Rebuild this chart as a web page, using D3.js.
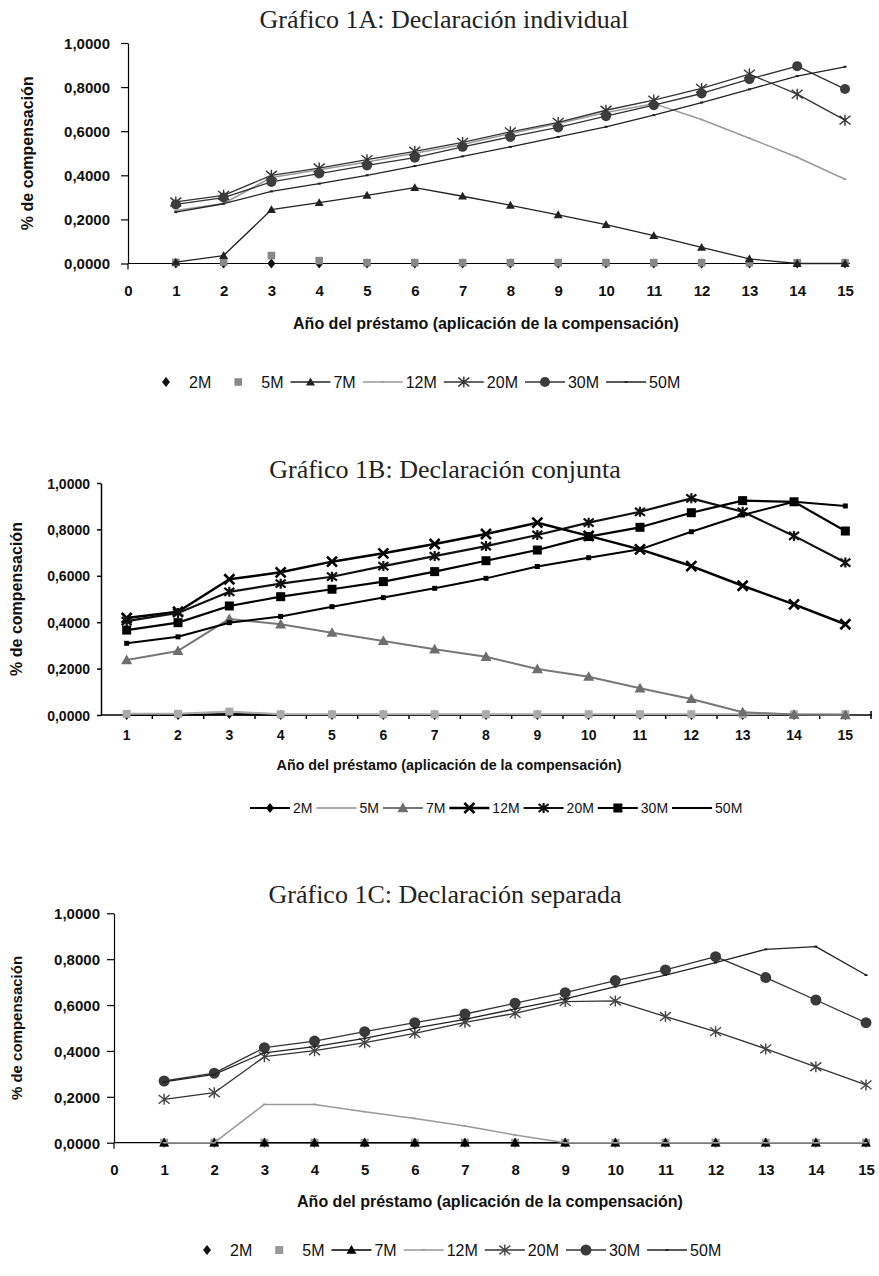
<!DOCTYPE html>
<html>
<head>
<meta charset="utf-8">
<script src="https://cdn.jsdelivr.net/npm/d3@7"></script>
<style>
  body { margin: 0; background: #fff; }
</style>
</head>
<body>
<svg id="chart" width="879" height="1276"></svg>
<script>
// ---- data ----
var years = [1, 2, 3, 4, 5, 6, 7, 8, 9, 10, 11, 12, 13, 14, 15];
var xTicks = [0, 1, 2, 3, 4, 5, 6, 7, 8, 9, 10, 11, 12, 13, 14, 15];
var yTicks = [0, 0.2, 0.4, 0.6, 0.8, 1.0];
var seriesNames = ['2M', '5M', '7M', '12M', '20M', '30M', '50M'];
var titles = ['Gráfico 1A: Declaración individual', 'Gráfico 1B: Declaración conjunta', 'Gráfico 1C: Declaración separada'];
var xTitle = 'Año del préstamo (aplicación de la compensación)';
var yTitle = '% de compensación';

// Gráfico 1A
var a2M  = [0, 0, 0, 0, 0, 0, 0, 0, 0, 0, 0, 0, 0, 0, 0];
var a5M  = [0.005, 0.006, 0.036, 0.013, 0.004, 0.004, 0.004, 0.004, 0.004, 0.004, 0.004, 0.004, 0.004, 0.004, 0.004];
var a7M  = [0.006, 0.036, 0.244, 0.276, 0.309, 0.344, 0.305, 0.264, 0.221, 0.176, 0.126, 0.073, 0.021, 0, 0];
var a12M = [0.240, 0.272, 0.390, 0.425, 0.460, 0.500, 0.540, 0.590, 0.635, 0.685, 0.725, 0.653, 0.568, 0.482, 0.382];
var a20M = [0.279, 0.309, 0.400, 0.433, 0.471, 0.509, 0.549, 0.597, 0.640, 0.695, 0.741, 0.794, 0.859, 0.768, 0.650];
var a30M = [0.268, 0.299, 0.370, 0.408, 0.445, 0.480, 0.529, 0.574, 0.617, 0.668, 0.718, 0.771, 0.836, 0.895, 0.791];
var a50M = [0.233, 0.271, 0.327, 0.362, 0.400, 0.442, 0.486, 0.529, 0.574, 0.620, 0.673, 0.730, 0.790, 0.850, 0.892];

// Gráfico 1B
var b2M  = [0, 0, 0.004, 0, 0, 0, 0, 0, 0, 0, 0, 0, 0, 0, 0];
var b5M  = [0.005, 0.005, 0.015, 0.003, 0.003, 0.003, 0.003, 0.003, 0.003, 0.003, 0.003, 0.003, 0.003, 0.003, 0.003];
var b7M  = [0.237, 0.276, 0.414, 0.391, 0.355, 0.319, 0.283, 0.251, 0.198, 0.165, 0.115, 0.069, 0.012, 0.002, 0];
var b12M = [0.418, 0.445, 0.585, 0.615, 0.661, 0.697, 0.737, 0.780, 0.829, 0.772, 0.714, 0.642, 0.557, 0.477, 0.391];
var b20M = [0.405, 0.440, 0.531, 0.566, 0.596, 0.642, 0.685, 0.728, 0.776, 0.829, 0.876, 0.934, 0.876, 0.772, 0.657];
var b30M = [0.366, 0.398, 0.470, 0.510, 0.542, 0.575, 0.618, 0.665, 0.711, 0.769, 0.809, 0.872, 0.924, 0.919, 0.793];
var b50M = [0.309, 0.337, 0.398, 0.425, 0.467, 0.506, 0.546, 0.589, 0.640, 0.678, 0.714, 0.790, 0.862, 0.919, 0.901];

// Gráfico 1C
var c2M  = [0, 0, 0, 0, 0, 0, 0, 0, 0, 0, 0, 0, 0, 0, 0];
var c5M  = [0, 0, 0, 0, 0, 0, 0, 0, 0, 0, 0, 0, 0, 0, 0];
var c7M  = [0, 0, 0, 0, 0, 0, 0, 0, 0, 0, 0, 0, 0, 0, 0];
var c12M = [0, 0, 0.167, 0.167, 0.135, 0.106, 0.073, 0.034, 0, 0, 0, 0, 0, 0, 0];
var c20M = [0.189, 0.218, 0.375, 0.401, 0.436, 0.477, 0.525, 0.564, 0.615, 0.618, 0.550, 0.484, 0.409, 0.331, 0.252];
var c30M = [0.269, 0.303, 0.414, 0.443, 0.484, 0.523, 0.561, 0.608, 0.654, 0.707, 0.753, 0.811, 0.720, 0.622, 0.523];
var c50M = [0.265, 0.298, 0.392, 0.419, 0.455, 0.499, 0.538, 0.583, 0.627, 0.680, 0.731, 0.785, 0.843, 0.855, 0.731];

var svg = d3.select('#chart');
var sans = '"Liberation Sans", Arial, sans-serif';
var serif = '"Liberation Serif", "Times New Roman", serif';
var fmt = d3.formatLocale({ decimal: ',', thousands: '.', grouping: [3], currency: ['', ''] }).format('.4f');

// marker shapes, s = half size
function marker_path(type, s) {
  switch (type) {
    case 'diamond':  return 'M0,' + (-s) + 'L' + (s * 0.8) + ',0L0,' + s + 'L' + (-s * 0.8) + ',0Z';
    case 'square':   return 'M' + (-s) + ',' + (-s) + 'H' + s + 'V' + s + 'H' + (-s) + 'Z';
    case 'triangle': return 'M0,' + (-s) + 'L' + s + ',' + (s * 0.75) + 'H' + (-s) + 'Z';
    case 'circle':   return 'M' + s + ',0A' + s + ',' + s + ' 0 1,1 ' + (-s) + ',0A' + s + ',' + s + ' 0 1,1 ' + s + ',0Z';
    case 'x':        return 'M' + (-s) + ',' + (-s) + 'L' + s + ',' + s + 'M' + (-s) + ',' + s + 'L' + s + ',' + (-s);
    case 'star':     return 'M' + (-s) + ',' + (-s * 0.8) + 'L' + s + ',' + (s * 0.8) + 'M' + (-s) + ',' + (s * 0.8) + 'L' + s + ',' + (-s * 0.8) + 'M0,' + (-s) + 'V' + s;
    case 'dash':     return 'M' + (-s) + ',0H' + s;
  }
  return '';
}
var stroked = { x: true, star: true, dash: true };

function draw_marker(g, m, cx, cy) {
  var p = g.append('path')
    .attr('d', marker_path(m.type, m.size))
    .attr('transform', 'translate(' + cx + ',' + cy + ')');
  if (stroked[m.type]) p.attr('fill', 'none').attr('stroke', m.color).attr('stroke-width', m.sw || 1.5);
  else p.attr('fill', m.color);
  return p;
}

function panel(cfg) {
  var g = svg.append('g');
  var x, pos;
  if (cfg.band) {
    x = d3.scaleBand().domain(years).range(cfg.xRange);
    pos = function (d) { return x(d) + x.bandwidth() / 2; };
  } else {
    x = d3.scaleLinear().domain([0, 15]).range(cfg.xRange);
    pos = x;
  }
  var y = d3.scaleLinear().domain([0, 1]).range(cfg.yRange);
  var y0 = y(0);

  // title
  g.append('text')
    .attr('x', cfg.titleX).attr('y', cfg.titleY)
    .attr('text-anchor', 'middle')
    .style('font-family', serif).style('font-size', cfg.titleSize + 'px').attr('fill', '#222')
    .text(cfg.title);

  // y axis
  var yAxis = d3.axisLeft(y).tickValues(yTicks).tickFormat(fmt)
    .tickSize(cfg.tickLen).tickSizeOuter(0).tickPadding(cfg.yPad);
  var ya = g.append('g').attr('transform', 'translate(' + cfg.axisX + ',0)').call(yAxis);
  ya.select('.domain').attr('stroke', '#000').attr('stroke-width', cfg.axisW);
  ya.selectAll('.tick line').attr('stroke', '#000').attr('stroke-width', cfg.axisW);
  ya.selectAll('text').style('font-family', sans).style('font-size', cfg.tickSize + 'px')
    .style('font-weight', 'bold').attr('fill', '#111').attr('dy', '0.36em');

  // x axis
  var xa;
  if (cfg.band) {
    xa = g.append('g').attr('transform', 'translate(0,' + y0 + ')')
      .call(d3.axisBottom(x).tickSize(0).tickSizeOuter(0));
    // small ticks between categories
    g.selectAll('.cat-tick').data(years.slice(1)).enter().append('line')
      .attr('x1', function (d) { return x(d); }).attr('x2', function (d) { return x(d); })
      .attr('y1', y0).attr('y2', y0 + 4)
      .attr('stroke', '#000').attr('stroke-width', 1.5);
    g.append('line').attr('x1', cfg.xRange[1]).attr('x2', cfg.xRange[1])
      .attr('y1', y0 - 4).attr('y2', y0 + 4).attr('stroke', '#000').attr('stroke-width', 1.5);
  } else {
    xa = g.append('g').attr('transform', 'translate(0,' + y0 + ')')
      .call(d3.axisBottom(x).tickValues(xTicks).tickSize(0).tickSizeOuter(0));
    g.append('line').attr('x1', cfg.axisX).attr('x2', cfg.axisX)
      .attr('y1', y0).attr('y2', y0 + 6).attr('stroke', '#000').attr('stroke-width', cfg.axisW);
  }
  xa.select('.domain').attr('stroke', '#000').attr('stroke-width', cfg.axisW)
    .attr('d', 'M' + cfg.axisX + ',0H' + cfg.xEnd);
  xa.selectAll('text').attr('y', cfg.xLabelY - y0).attr('dy', 0)
    .style('font-family', sans).style('font-size', cfg.tickSize + 'px')
    .style('font-weight', 'bold').attr('fill', '#111');

  // axis titles
  g.append('text')
    .attr('x', cfg.xTitleX).attr('y', cfg.xTitleY).attr('text-anchor', 'middle')
    .style('font-family', sans).style('font-size', cfg.xTitleSize + 'px').style('font-weight', 'bold')
    .attr('fill', '#111').text(xTitle);
  g.append('text')
    .attr('transform', 'translate(' + cfg.yTitleX + ',' + ((cfg.yRange[0] + cfg.yRange[1]) / 2) + ') rotate(-90)')
    .attr('text-anchor', 'middle').attr('dy', '0.36em')
    .style('font-family', sans).style('font-size', cfg.yTitleSize + 'px').style('font-weight', 'bold')
    .attr('fill', '#111').text(yTitle);

  // series
  var line = d3.line().x(function (d, i) { return pos(years[i]); }).y(function (d) { return y(d); });
  cfg.series.forEach(function (s) {
    var sg = g.append('g');
    if (s.line) {
      sg.append('path').datum(s.values).attr('d', line)
        .attr('fill', 'none').attr('stroke', s.color).attr('stroke-width', s.width)
        .attr('stroke-linejoin', 'round');
    }
    if (s.marker) {
      s.values.forEach(function (v, i) { draw_marker(sg, s.marker, pos(years[i]), y(v)); });
    }
  });

  // legend
  var lg = g.append('g');
  var lx = cfg.legendX;
  cfg.series.forEach(function (s) {
    if (s.line) {
      lg.append('line').attr('x1', lx).attr('x2', lx + 40).attr('y1', cfg.legendY).attr('y2', cfg.legendY)
        .attr('stroke', s.color).attr('stroke-width', s.width);
    }
    var lm = ('legendMarker' in s) ? s.legendMarker : s.marker;
    if (lm) draw_marker(lg, lm, lx + 20, cfg.legendY);
    var t = lg.append('text').attr('x', lx + 43).attr('y', cfg.legendY).attr('dy', '0.36em')
      .style('font-family', sans).style('font-size', cfg.legendSize + 'px').attr('fill', '#111')
      .text(s.name);
    lx += 43 + t.node().getComputedTextLength() + cfg.legendGap;
  });
}

// ---- Gráfico 1A ----
var dark = '#333';
panel({
  title: titles[0], titleX: 444, titleY: 28, titleSize: 26,
  xRange: [128, 845], xEnd: 850, yRange: [263.5, 43], axisX: 128, axisW: 1.2,
  tickLen: 7, yPad: 11, tickSize: 15, xLabelY: 296,
  xTitleX: 486, xTitleY: 329, xTitleSize: 16,
  yTitleX: 27, yTitleSize: 16,
  legendX: 146, legendY: 382, legendSize: 16, legendGap: 7,
  series: [
    { name: seriesNames[0], values: a2M, line: false, marker: { type: 'diamond', size: 5, color: '#111' } },
    { name: seriesNames[1], values: a5M, line: false, marker: { type: 'square', size: 3.8, color: '#888' } },
    { name: seriesNames[2], values: a7M, line: true, color: '#222', width: 1.3, marker: { type: 'triangle', size: 4.5, color: '#222' } },
    { name: seriesNames[3], values: a12M, line: true, color: '#999', width: 1.5, marker: { type: 'dash', size: 1.5, color: '#999', sw: 1.5 } },
    { name: seriesNames[4], values: a20M, line: true, color: dark, width: 1.3, marker: { type: 'star', size: 5.5, color: dark, sw: 1.4 } },
    { name: seriesNames[5], values: a30M, line: true, color: dark, width: 1.3, marker: { type: 'circle', size: 5, color: '#3c3c3c' } },
    { name: seriesNames[6], values: a50M, line: true, color: '#222', width: 1.3, marker: { type: 'dash', size: 1.5, color: '#222', sw: 2 } }
  ]
});

// ---- Gráfico 1B ----
panel({
  band: true,
  title: titles[1], titleX: 445, titleY: 478, titleSize: 26,
  xRange: [101, 871], xEnd: 872, yRange: [715, 483], axisX: 101, axisW: 1.5,
  tickLen: 4, yPad: 7, tickSize: 14, xLabelY: 740,
  xTitleX: 449, xTitleY: 770, xTitleSize: 14.3,
  yTitleX: 16, yTitleSize: 16,
  legendX: 250, legendY: 808, legendSize: 14, legendGap: 4,
  series: [
    { name: seriesNames[0], values: b2M, line: true, color: '#000', width: 2.2, marker: { type: 'diamond', size: 5, color: '#000' } },
    { name: seriesNames[1], values: b5M, line: true, color: '#aaa', width: 2, marker: { type: 'square', size: 4, color: '#aaa' }, legendMarker: { type: 'dash', size: 2, color: '#aaa', sw: 2 } },
    { name: seriesNames[2], values: b7M, line: true, color: '#777', width: 2, marker: { type: 'triangle', size: 5.5, color: '#6e6e6e' } },
    { name: seriesNames[3], values: b12M, line: true, color: '#000', width: 2.5, marker: { type: 'x', size: 5, color: '#000', sw: 2.6 } },
    { name: seriesNames[4], values: b20M, line: true, color: '#111', width: 2.2, marker: { type: 'star', size: 5, color: '#111', sw: 2.2 } },
    { name: seriesNames[5], values: b30M, line: true, color: '#000', width: 2.2, marker: { type: 'square', size: 4.5, color: '#000' } },
    { name: seriesNames[6], values: b50M, line: true, color: '#000', width: 2, marker: { type: 'square', size: 2.5, color: '#000' }, legendMarker: null }
  ]
});

// ---- Gráfico 1C ----
panel({
  title: titles[2], titleX: 445, titleY: 903, titleSize: 26,
  xRange: [114, 866], xEnd: 868, yRange: [1142.7, 913.3], axisX: 114, axisW: 1.2,
  tickLen: 7, yPad: 7, tickSize: 15, xLabelY: 1175,
  xTitleX: 490, xTitleY: 1207, xTitleSize: 16,
  yTitleX: 17, yTitleSize: 15,
  legendX: 187, legendY: 1250, legendSize: 16, legendGap: 7,
  series: [
    { name: seriesNames[0], values: c2M, line: false, marker: { type: 'diamond', size: 5, color: '#111' } },
    { name: seriesNames[1], values: c5M, line: false, marker: { type: 'square', size: 4, color: '#999' } },
    { name: seriesNames[2], values: c7M, line: true, color: '#000', width: 1.5, marker: { type: 'triangle', size: 5, color: '#000' } },
    { name: seriesNames[3], values: c12M, line: true, color: '#999', width: 1.5, marker: { type: 'dash', size: 1.5, color: '#999', sw: 1.5 } },
    { name: seriesNames[4], values: c20M, line: true, color: dark, width: 1.3, marker: { type: 'star', size: 5.5, color: '#444', sw: 1.4 } },
    { name: seriesNames[5], values: c30M, line: true, color: dark, width: 1.3, marker: { type: 'circle', size: 5.5, color: '#3a3a3a' } },
    { name: seriesNames[6], values: c50M, line: true, color: '#222', width: 1.3, marker: { type: 'dash', size: 1.5, color: '#222', sw: 2 } }
  ]
});
</script>
</body>
</html>
